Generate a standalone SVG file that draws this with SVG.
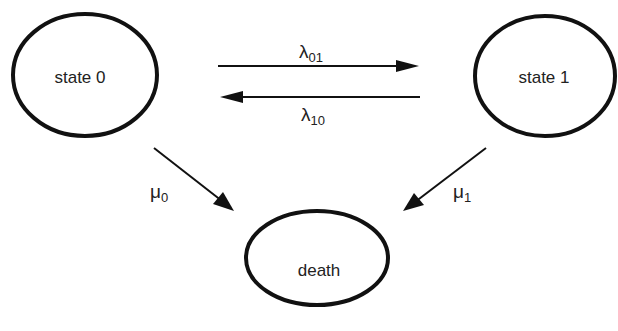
<svg xmlns="http://www.w3.org/2000/svg" width="618" height="331" viewBox="0 0 618 331">
<style>
.node{fill:none;stroke:#111;stroke-width:4}
.lbl{font-family:"Liberation Sans",Arial,sans-serif;font-size:17px;fill:#222;text-anchor:middle}
.sym{font-family:"Liberation Sans",Arial,sans-serif;font-size:19px;fill:#222}
.sub{font-size:13px}
.edge{stroke:#111;stroke-width:2;fill:none}
.head{fill:#111}
</style>
<rect width="618" height="331" fill="#fff"/>
<g id="state0"><ellipse class="node" cx="85" cy="75" rx="72" ry="61"/><text class="lbl" x="80" y="83">state 0</text></g>
<g id="state1"><ellipse class="node" cx="545" cy="76" rx="70" ry="60"/><text class="lbl" x="544" y="83">state 1</text></g>
<g id="death"><ellipse class="node" cx="317" cy="258" rx="71" ry="47"/><text class="lbl" x="319" y="276">death</text></g>
<g id="connectors">
<line class="edge" x1="218" y1="66" x2="405" y2="66"/>
<path class="head" d="M396,60 L419,66 L396,72 Z"/>
<line class="edge" x1="420" y1="97" x2="234" y2="97"/>
<path class="head" d="M243,91 L220,97 L243,103 Z"/>
<line class="edge" x1="154" y1="148" x2="222" y2="201"/>
<path class="head" d="M234,211 L213,204 L223,192 Z"/>
<line class="edge" x1="486" y1="148" x2="415" y2="202"/>
<path class="head" d="M403,211 L414,193 L424,205 Z"/>
<text class="sym" x="299" y="58">λ<tspan class="sub" dy="4">01</tspan></text>
<text class="sym" x="301" y="121">λ<tspan class="sub" dy="4">10</tspan></text>
<text class="sym" x="150" y="198">μ<tspan class="sub" dy="4">0</tspan></text>
<text class="sym" x="453" y="198">μ<tspan class="sub" dy="4">1</tspan></text>
</g>
</svg>
